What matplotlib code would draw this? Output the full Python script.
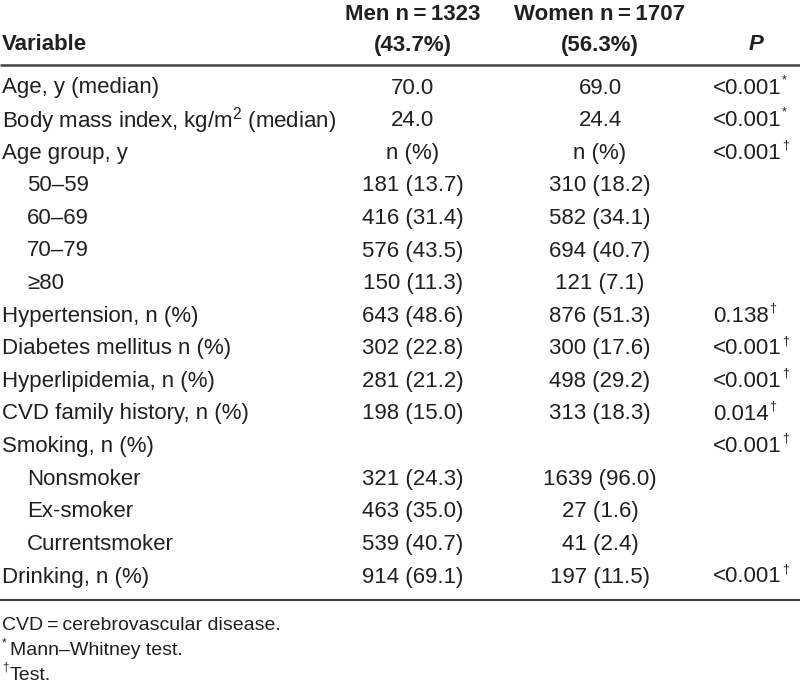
import matplotlib
matplotlib.use("Agg")
import matplotlib.pyplot as plt

# table content
header_men = ["Men n\u2009=\u20091323", "(43.7%)"]
header_women = ["Women n\u2009=\u20091707", "(56.3%)"]

variables = [
    "Age, y (median)",
    "Body mass index, kg/m$^{2}$ (median)",
    "Age group, y",
    "50\u201359",
    "60\u201369",
    "70\u201379",
    "\u226580",
    "Hypertension, n (%)",
    "Diabetes mellitus n (%)",
    "Hyperlipidemia, n (%)",
    "CVD family history, n (%)",
    "Smoking, n (%)",
    "Nonsmoker",
    "Ex-smoker",
    "Currentsmoker",
    "Drinking, n (%)",
]
indented = [False, False, False, True, True, True, True, False,
            False, False, False, False, True, True, True, False]
men = ["70.0", "24.0", "n (%)", "181 (13.7)", "416 (31.4)", "576 (43.5)",
       "150 (11.3)", "643 (48.6)", "302 (22.8)", "281 (21.2)", "198 (15.0)",
       "", "321 (24.3)", "463 (35.0)", "539 (40.7)", "914 (69.1)"]
women = ["69.0", "24.4", "n (%)", "310 (18.2)", "582 (34.1)", "694 (40.7)",
         "121 (7.1)", "876 (51.3)", "300 (17.6)", "498 (29.2)", "313 (18.3)",
         "", "1639 (96.0)", "27 (1.6)", "41 (2.4)", "197 (11.5)"]
p_values = ["<0.001", "<0.001", "<0.001", "", "", "", "", "0.138",
            "<0.001", "<0.001", "0.014", "<0.001", "", "", "", "<0.001"]
p_marks = ["*", "*", "\u2020", "", "", "", "", "\u2020",
           "\u2020", "\u2020", "\u2020", "\u2020", "", "", "", "\u2020"]
footnotes = ["CVD\u2009=\u2009cerebrovascular disease.",
             "Mann\u2013Whitney test.",
             "Test."]
footnote_marks = ["", "*", "\u2020"]

plt.rcParams["font.family"] = ["Liberation Sans", "DejaVu Sans"]
plt.rcParams["mathtext.fontset"] = "custom"
plt.rcParams["mathtext.rm"] = "Liberation Sans"
plt.rcParams["mathtext.it"] = "Liberation Sans:italic"
ink = "#231f20"

fig = plt.figure(figsize=(8, 6.96), dpi=100)
ax = fig.add_axes([0, 0, 1, 1])
ax.set_xlim(0, 800)
ax.set_ylim(696, 0)
ax.axis("off")

fs = 16
x_var, x_ind, x_men, x_women, x_p = 2, 27, 413, 600, 713

# header
ax.text(x_var, 45, "Variable", fontsize=fs, fontweight="bold", va="center", color=ink)
for i, (m, w) in enumerate(zip(header_men, header_women)):
    y = 14 + 31 * i
    ax.text(x_men, y, m, fontsize=fs, fontweight="bold", ha="center", va="center", color=ink)
    ax.text(x_women, y, w, fontsize=fs, fontweight="bold", ha="center", va="center", color=ink)
ax.text(756, 45, "P", fontsize=fs, fontweight="bold", fontstyle="italic",
        ha="center", va="center", color=ink)
ax.plot([0, 800], [65, 65], color="#444444", lw=1.8, solid_capstyle="butt")

# body rows
y0, step = 88, 32.6
for i, var in enumerate(variables):
    y = y0 + i * step
    ax.text(x_ind if indented[i] else x_var, y, var, fontsize=fs, va="center", color=ink)
    ax.text(x_men, y, men[i], fontsize=fs, ha="center", va="center", color=ink)
    ax.text(x_women, y, women[i], fontsize=fs, ha="center", va="center", color=ink)
    if p_values[i]:
        t = ax.text(x_p, y, p_values[i], fontsize=fs, va="center", color=ink)
        ax.annotate(p_marks[i], xy=(1, 1), xycoords=t, xytext=(0.3, -2),
                    textcoords="offset points", fontsize=9, ha="left", va="center",
                    color=ink)

ax.plot([0, 800], [600, 600], color="#444444", lw=1.5, solid_capstyle="butt")

# footnotes
for i, (note, mark) in enumerate(zip(footnotes, footnote_marks)):
    y = 626 + i * 24.5
    ax.text(10 if mark else 2, y, note, fontsize=14, va="center", color=ink)
    if mark:
        ax.text(2, y - 7, mark, fontsize=8.5, va="center", color=ink)

fig.savefig("out.png", dpi=100)
